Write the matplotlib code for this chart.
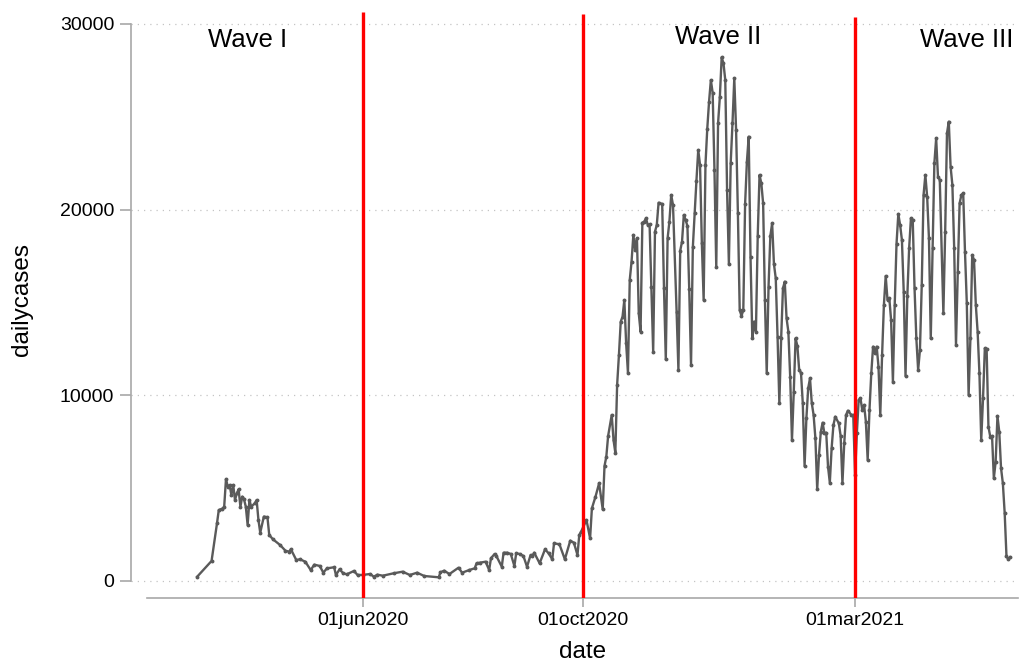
import numpy as np
import matplotlib
matplotlib.use('Agg')
import matplotlib.pyplot as plt
import matplotlib.dates as mdates

plt.rcParams['font.family'] = ['Liberation Sans', 'DejaVu Sans']

start = np.datetime64('2020-06-01')

# days since 01jun2020 and daily cases
day_offset = [
    -92, -84, -81, -80, -78, -77, -76, -75, -74, -73, -72, -71, -70, -69, -68, -67,
    -66, -65, -64, -63, -62, -60, -59, -58, -57, -55, -53, -52, -50, -46, -43, -41,
    -40, -37, -35, -32, -29, -27, -24, -22, -20, -16, -15, -13, -11, -9, -5, -3, 0,
    4, 6, 8, 11, 17, 22, 26, 30, 34, 42, 43, 45, 48, 53, 55, 59, 62, 63, 65, 68,
    70, 71, 73, 74, 77, 78, 80, 82, 84, 85, 87, 89, 91, 93, 94, 95, 98, 101, 103,
    105, 106, 109, 112, 115, 117, 119, 120, 121, 124, 126, 127, 129, 131, 133, 134,
    135, 136, 138, 139, 140,
    141, 142, 143, 144, 145, 146, 147, 148, 149, 150, 151, 152, 153, 154,
    155, 156, 157, 158, 159, 160, 161, 162, 163, 164, 166, 167, 168,
    169, 170, 171, 172, 174, 175, 176, 177, 178, 179, 180, 181, 182,
    183, 184, 185, 186, 187, 188, 189, 190, 191, 192, 193, 194, 195, 196,
    197, 198, 199, 200, 201, 202, 203, 204, 205, 206, 207, 208, 209, 210,
    211, 212, 213, 214, 215, 216, 217, 218, 219, 220, 221, 222, 223, 224,
    225, 226, 227, 228, 229, 230, 231, 232, 233, 234, 235, 236, 237, 238,
    239, 240, 241, 242, 243, 244, 245, 246, 247, 248, 249, 250, 251, 252,
    253, 254, 255, 256, 257, 258, 259, 260, 261, 262, 264, 265, 266,
    267, 268, 269, 271, 272, 273, 274, 275, 276, 277, 278, 279, 280,
    281, 282, 283, 284, 285, 286, 287, 288, 289, 290, 291, 292, 293, 294,
    295, 296, 297, 298, 299, 300, 301, 302, 303, 304, 305, 306, 307, 308,
    309, 310, 311, 312, 313, 314, 315, 316, 317, 318, 319, 320, 322,
    323, 324, 325, 326, 327, 328, 329, 330, 331, 332, 333, 334, 335, 336,
    337, 338, 339, 340, 341, 342, 343, 344, 345, 346, 347, 348, 349, 350,
    351, 352, 353, 354, 355, 356, 357, 358, 359,
]
dailycases = [
    230, 1080, 3100, 3820, 3900, 4000, 5490, 5080, 5170, 4630, 5170, 4360, 4720, 4940, 4000, 4540,
    4400, 4000, 3020, 4360, 4000, 4190, 4360, 3290, 2600, 3470, 3430, 2480, 2250, 1940, 1630, 1580,
    1710, 1130, 1170, 1040, 590, 880, 810, 450, 680, 740, 320, 630, 420, 360, 540, 320, 330,
    377, 232, 340, 285, 415, 501, 323, 447, 269, 199, 468, 555, 377, 716, 447, 592, 684, 953, 986, 1040,
    592, 1223, 1454, 1346, 770, 1524, 1524, 1454, 808, 1490, 1454, 1346, 770, 1400, 1346, 1524, 953, 1707, 1490,
    1169, 2031, 1975, 1169, 2172, 2063, 1400, 2478, 2655, 3285, 2298, 3915, 4541, 5262, 3861, 6194,
    6695, 7810, 8941, 7594, 6910,
    10557, 12173, 13967, 14236, 15135, 12802, 11219, 16212, 17198, 18636, 17828, 18456, 14416, 13429,
    19298, 19352, 19535, 19174, 19210, 15851, 12352, 18815, 19174, 20375, 20305, 15763, 11937,
    18456, 19352, 20790, 20251, 14505, 11365, 17790, 18275, 19713, 19443, 19120, 15709, 11634,
    17972, 19800, 21560, 23214, 22406, 18186, 15135, 22406, 24345, 25816, 26979, 26296, 22137, 16896,
    24651, 26087, 28206, 27883, 26979, 21052, 17074, 22496, 24651, 27069, 24292, 19800, 14596, 14273,
    14596, 20305, 22586, 23932, 17467, 13071, 13967, 13429, 18582, 21867, 21419, 20342, 15135, 11185,
    15851, 18582, 19266, 17074, 16304, 13159, 9572, 13071, 15763, 16124, 14147, 13429, 11005, 7594,
    10196, 13071, 12657, 11365, 11219, 9572, 6194, 8763, 10379, 10918, 9572, 8941, 7686, 4939,
    6786, 8041, 8526, 7955, 7987, 6156, 5294, 7147, 8402, 8849, 8494, 7810, 5262,
    7417, 8941, 9172, 8941, 8941, 5709, 7955, 9749, 9840, 9210, 9480, 8580, 6517,
    9210, 11185, 12620, 12262, 12620, 11542, 8941, 12173, 14866, 16427, 15135, 15226, 14057, 10734,
    14866, 18151, 19767, 19174, 18366, 15583, 11042, 15350, 17919, 19535, 19443, 15763, 13071, 11365,
    12442, 15943, 20790, 21867, 20700, 18456, 13071, 17919, 22496, 23842, 21778, 21598, 14416,
    18815, 24112, 24740, 22317, 21329, 17919, 12711, 16660, 20342, 20790, 20881, 17700, 14956, 10018,
    13071, 17558, 17289, 14866, 13429, 11185, 7594, 9840, 12531, 12477, 8311, 7772, 7810, 5532,
    6425, 8887, 8041, 6066, 5262, 3679, 1346, 1169, 1277,
]

wave_lines = ['2020-06-01', '2020-10-01', '2021-03-01']
wave_line_tops = [30650, 30540, 30380]
wave_names = ['Wave I', 'Wave II', 'Wave III']
wave_label_x = [-64, 197, 335]
wave_label_y = [29140, 29300, 29140]

tick_dates = ['2020-06-01', '2020-10-01', '2021-03-01']
tick_labels = ['01jun2020', '01oct2020', '01mar2021']

x0 = mdates.date2num(start)
dates = mdates.date2num(start + np.array(day_offset).astype('timedelta64[D]'))

fig = plt.figure(figsize=(10.31, 6.67), dpi=100)
ax = fig.add_axes([131 / 1031, 1 - 598 / 667, (1018 - 131) / 1031, (598 - 12) / 667])

axis_gray = '#a8a8a8'

ax.plot(dates, dailycases, color='#5a5a5a', lw=1.7, marker='o', ms=1.8,
        mec='#5a5a5a', mfc='#5a5a5a', zorder=2)

line_x = mdates.date2num(np.array(wave_lines, dtype='datetime64[D]'))
ax.vlines(line_x, -916, wave_line_tops, color='red', lw=2.4, zorder=3)

for name, dx, yy in zip(wave_names, wave_label_x, wave_label_y):
    ax.text(x0 + dx, yy, name, ha='center', va='center', fontsize=18.5)

ax.set_xlim(x0 - 128.7, x0 + 363.4)
ax.set_ylim(-916, 30646)

for s in ['top', 'right']:
    ax.spines[s].set_visible(False)
ax.spines['left'].set_bounds(0, 30000)
ax.spines['bottom'].set_bounds(x0 - 119.8, x0 + 363.4)
for s in ['left', 'bottom']:
    ax.spines[s].set_color(axis_gray)
    ax.spines[s].set_linewidth(1.2)

ax.set_yticks([0, 10000, 20000, 30000])
ax.set_yticklabels(['0', '10000', '20000', '30000'])
ax.set_xticks(mdates.date2num(np.array(tick_dates, dtype='datetime64[D]')))
ax.set_xticklabels(tick_labels)
ax.tick_params(axis='y', length=8, width=1.2, color=axis_gray, pad=4, labelsize=14)
ax.tick_params(axis='x', length=6.5, width=1.2, color=axis_gray, pad=3.5, labelsize=14)

ax.yaxis.grid(True, linestyle=(0, (1, 4)), color='#c4c4c4', lw=0.9)
ax.set_axisbelow(True)

ax.set_ylabel('dailycases', fontsize=17.5)
ax.yaxis.set_label_coords((22 - 131) / 887, (598 - 300) / 586)
ax.yaxis.label.set_va('center')
ax.set_xlabel('date', fontsize=17.5)
ax.xaxis.set_label_coords((583 - 131) / 887, (598 - 652) / 586)
ax.xaxis.label.set_va('center')

fig.savefig('out.png', dpi=100)
